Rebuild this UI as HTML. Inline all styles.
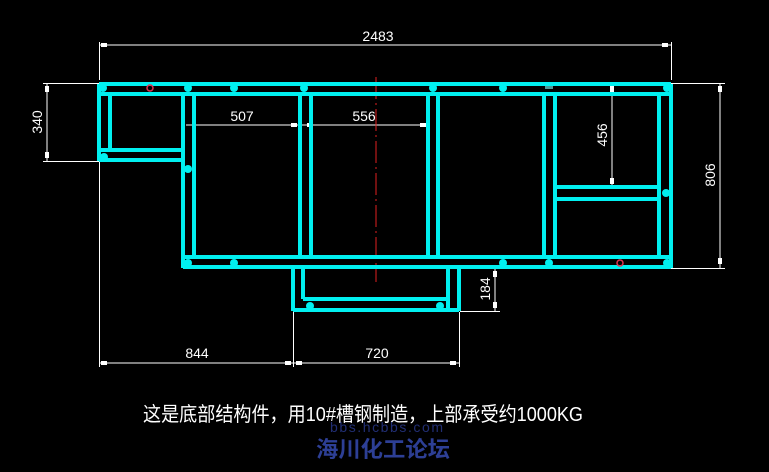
<!DOCTYPE html>
<html><head><meta charset="utf-8"><style>
html,body{margin:0;padding:0;background:#000;width:769px;height:472px;overflow:hidden}
svg{display:block}
</style></head><body>
<svg width="769" height="472" viewBox="0 0 769 472" xmlns="http://www.w3.org/2000/svg">
<rect width="769" height="472" fill="#000"/>
<!-- dimension lines (white) -->
<g stroke="#fff" stroke-width="1" fill="none">
  <!-- top 2483 -->
  <line x1="99" y1="45" x2="671" y2="45"/>
  <line x1="99.5" y1="42" x2="99.5" y2="80"/>
  <line x1="671.5" y1="42" x2="671.5" y2="80"/>
  <!-- 340 -->
  <line x1="47" y1="83" x2="47" y2="161"/>
  <line x1="43" y1="83.5" x2="99" y2="83.5"/>
  <line x1="43" y1="161.5" x2="99" y2="161.5"/>
  <!-- 806 -->
  <line x1="720" y1="83" x2="720" y2="268"/>
  <line x1="610" y1="83.5" x2="725" y2="83.5"/>
  <line x1="655" y1="268.5" x2="725" y2="268.5"/>
  <!-- 456 -->
  <line x1="612" y1="84" x2="612" y2="188"/>
  <!-- 507 / 556 -->
  <line x1="186" y1="125" x2="300" y2="125"/>
  <line x1="300" y1="125" x2="428" y2="125"/>
  <!-- 184 -->
  <line x1="495" y1="268" x2="495" y2="312"/>
  <line x1="460" y1="311.5" x2="500" y2="311.5"/>
  <!-- bottom -->
  <line x1="99" y1="363" x2="459" y2="363"/>
  <line x1="99.5" y1="160" x2="99.5" y2="367"/>
  <line x1="293.5" y1="312" x2="293.5" y2="367"/>
  <line x1="459.5" y1="312" x2="459.5" y2="367"/>
</g>
<!-- arrow ticks -->
<g fill="#fff">
  <rect x="101" y="43" width="6" height="4"/><rect x="662" y="43" width="6" height="4"/>
  <rect x="45" y="86" width="4" height="6"/><rect x="45" y="152" width="4" height="6"/>
  <rect x="718" y="86" width="4" height="6"/><rect x="718" y="258" width="4" height="6"/>
  <rect x="610" y="86" width="4" height="6"/><rect x="610" y="178" width="4" height="6"/>
  <rect x="291" y="123" width="6" height="4"/><rect x="307" y="123" width="6" height="4"/><rect x="420" y="123" width="6" height="4"/>
  <rect x="493" y="271" width="4" height="6"/><rect x="493" y="302" width="4" height="6"/>
  <rect x="101" y="361" width="6" height="4"/><rect x="285" y="361" width="6" height="4"/><rect x="296" y="361" width="6" height="4"/><rect x="450" y="361" width="6" height="4"/>
</g>
<!-- dimension text -->
<g fill="#fff" font-family="Liberation Sans, sans-serif" font-size="14" text-anchor="middle">
  <text x="378" y="41">2483</text>
  <text x="242" y="121">507</text>
  <text x="364" y="121">556</text>
  <text x="197" y="358">844</text>
  <text x="377" y="358">720</text>
  <text transform="translate(42,122) rotate(-90)">340</text>
  <text transform="translate(715,175) rotate(-90)">806</text>
  <text transform="translate(607,135) rotate(-90)">456</text>
  <text transform="translate(490,289) rotate(-90)">184</text>
</g>
<!-- center line -->
<line x1="376" y1="77" x2="376" y2="282" stroke="#e02020" stroke-width="1" stroke-dasharray="22,4,2,4"/>
<!-- frame (cyan) -->
<g stroke="#00f0f0" stroke-width="4" fill="none">
  <line x1="99" y1="84" x2="671" y2="84"/>
  <line x1="99" y1="94" x2="671" y2="94"/>
  <line x1="99" y1="84" x2="99" y2="161"/>
  <line x1="110" y1="94" x2="110" y2="150"/>
  <line x1="99" y1="150" x2="182" y2="150"/>
  <line x1="99" y1="160" x2="182" y2="160"/>
  <line x1="183" y1="94" x2="183" y2="268"/>
  <line x1="194" y1="94" x2="194" y2="258"/>
  <line x1="183" y1="257" x2="671" y2="257"/>
  <line x1="183" y1="267" x2="671" y2="267"/>
  <line x1="300" y1="94" x2="300" y2="257"/>
  <line x1="311" y1="94" x2="311" y2="257"/>
  <line x1="428" y1="94" x2="428" y2="257"/>
  <line x1="438" y1="94" x2="438" y2="257"/>
  <line x1="544" y1="94" x2="544" y2="257"/>
  <line x1="555" y1="94" x2="555" y2="257"/>
  <line x1="659" y1="94" x2="659" y2="257"/>
  <line x1="671" y1="84" x2="671" y2="268"/>
  <line x1="555" y1="187" x2="659" y2="187"/>
  <line x1="555" y1="199" x2="659" y2="199"/>
  <!-- bottom box -->
  <line x1="293" y1="267" x2="293" y2="311"/>
  <line x1="303" y1="267" x2="303" y2="299"/>
  <line x1="448" y1="267" x2="448" y2="311"/>
  <line x1="459" y1="267" x2="459" y2="311"/>
  <line x1="303" y1="299" x2="448" y2="299"/>
  <line x1="293" y1="310" x2="459" y2="310"/>
</g>
<!-- dots -->
<g fill="#00f0f0">
  <circle cx="103" cy="88" r="4"/><circle cx="188" cy="88" r="4"/><circle cx="234" cy="88" r="4"/>
  <circle cx="304" cy="88" r="4"/><circle cx="433" cy="88" r="4"/><circle cx="503" cy="88" r="4"/>
  <circle cx="667" cy="88" r="4"/><circle cx="104" cy="157" r="4"/><circle cx="188" cy="169" r="4"/>
  <circle cx="188" cy="263" r="4"/><circle cx="234" cy="263" r="4"/><circle cx="503" cy="263" r="4"/>
  <circle cx="549" cy="263" r="4"/><circle cx="667" cy="263" r="4"/><circle cx="666" cy="193" r="4"/>
  <circle cx="310" cy="306" r="4"/><circle cx="440" cy="306" r="4"/>
</g>
<circle cx="150" cy="88" r="3" fill="none" stroke="#e03050" stroke-width="1.5"/>
<circle cx="620" cy="263" r="3" fill="none" stroke="#e03050" stroke-width="1.5"/>
<rect x="545" y="86" width="8" height="3" fill="#4a9a9a"/>
<!-- caption -->
<text x="143" y="421" fill="#fff" font-family="Liberation Sans, 'Noto Sans CJK SC', sans-serif" font-size="20" textLength="440" lengthAdjust="spacingAndGlyphs">这是底部结构件，用10#槽钢制造，上部承受约1000KG</text>
<text x="330" y="432" fill="#2a3a90" font-family="Liberation Sans, sans-serif" font-size="14" textLength="113" opacity="0.8">bbs.hcbbs.com</text>
<text x="316" y="457" fill="#2d3f95" font-family="Liberation Sans, 'Noto Sans CJK SC', sans-serif" font-size="22" font-weight="bold" textLength="134" lengthAdjust="spacingAndGlyphs">海川化工论坛</text>
</svg>
</body></html>
